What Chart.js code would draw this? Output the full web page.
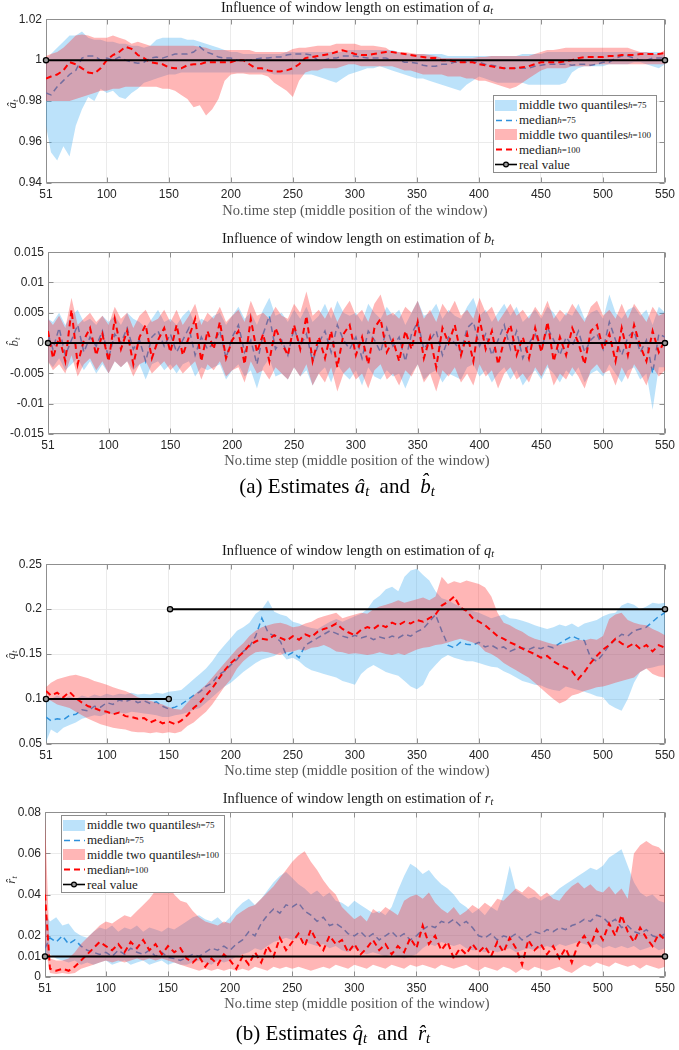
<!DOCTYPE html>
<html>
<head>
<meta charset="utf-8">
<script src="https://cdn.jsdelivr.net/npm/chart.js@4.4.1/dist/chart.umd.min.js"></script>
<style>
  body { margin: 0; background: #fff; }
  #page { position: relative; width: 679px; height: 1050px; overflow: hidden; background: #fff; }
  canvas { position: absolute; left: 0; }
  .title, .xlab, .ylab, .cap { position: absolute; font-family: 'Liberation Serif', 'Times New Roman', serif; white-space: nowrap; }
  .title { font-size: 14.5px; color: #1a1a1a; transform: translate(-50%, -50%); }
  .xlab { font-size: 14.5px; color: #555; transform: translate(-50%, -50%); }
  .ylab { font-size: 13px; color: #333; font-style: italic; transform: translate(-50%, -50%) rotate(-90deg); }
  .cap { font-size: 21px; color: #000; transform: translate(-50%, -50%); }
  .cap .gap { display: inline-block; width: 5px; }
  sub { font-size: 70%; vertical-align: -0.25em; line-height: 0; }
  .leg { position: absolute; width: 164px; height: 78px; box-sizing: border-box; border: 1px solid #8c8c8c; background: #fff;
         font-family: 'Liberation Serif', serif; font-size: 13px; color: #222; padding-top: 2px; }
  .leg div { height: 14.8px; display: flex; align-items: center; white-space: nowrap; }
  .leg svg { margin: 0 2px 0 1px; flex: none; }
  .leg sup { font-size: 9px; line-height: 0; vertical-align: 5px; }
</style>
</head>
<body>
<div id="page">
  <canvas id="c1" width="679" height="197" style="top:8px"></canvas>
  <canvas id="c2" width="679" height="215" style="top:241px"></canvas>
  <canvas id="c3" width="679" height="213" style="top:553px"></canvas>
  <canvas id="c4" width="679" height="198" style="top:801px"></canvas>

  <div class="title" style="left:357px;top:7px">Influence of window length on estimation of <i>a<sub>t</sub></i></div>
  <div class="title" style="left:358px;top:238px">Influence of window length on estimation of <i>b<sub>t</sub></i></div>
  <div class="title" style="left:358px;top:550px">Influence of window length on estimation of <i>q<sub>t</sub></i></div>
  <div class="title" style="left:358px;top:798px">Influence of window length on estimation of <i>r<sub>t</sub></i></div>

  <div class="xlab" style="left:355px;top:210px">No.time step (middle position of the window)</div>
  <div class="xlab" style="left:357px;top:460px">No.time step (middle position of the window)</div>
  <div class="xlab" style="left:357px;top:770px">No.time step (middle position of the window)</div>
  <div class="xlab" style="left:357px;top:1003px">No.time step (middle position of the window)</div>

  <div class="ylab" style="left:12px;top:104px">â<sub>t</sub></div>
  <div class="ylab" style="left:14px;top:342px">b̂<sub>t</sub></div>
  <div class="ylab" style="left:11px;top:655px">q̂<sub>t</sub></div>
  <div class="ylab" style="left:11px;top:880px">r̂<sub>t</sub></div>

  <div class="cap" style="left:337px;top:486px">(a) Estimates <i>â<sub>t</sub></i><span class="gap"></span> and <span class="gap"></span><i>b̂<sub>t</sub></i></div>
  <div class="cap" style="left:333px;top:1033px">(b) Estimates <i>q̂<sub>t</sub></i><span class="gap"></span> and <span class="gap"></span><i>r̂<sub>t</sub></i></div>
</div>

<script>
const xs = [51,55,60,65,70,75,80,85,90,95,
  100,105,110,115,120,125,130,135,140,145,
  150,155,160,165,170,175,180,185,190,195,
  200,205,210,215,220,225,230,235,240,245,
  250,255,260,265,270,275,280,285,290,295,
  300,305,310,315,320,325,330,335,340,345,
  350,355,360,365,370,375,380,385,390,395,
  400,405,410,415,420,425,430,435,440,445,
  450,455,460,465,470,475,480,485,490,495,
  500,505,510,515,520,525,530,535,540,545,550];
const xTicks = [51,100,150,200,250,300,350,400,450,500,550];

// panel a_t
const aYTicks = [0.94,0.96,0.98,1,1.02];
const aBlueLo = [.968,.955,.951,.958,.953,.968,.976,.982,.980,.986,
  .984,.985,.982,.981,.984,.986,.989,.990,.991,.992,
  .993,.993,.994,.994,.994,.994,.994,.994,.994,.994,
  .994,.994,.994,.994,.994,.994,.994,.993,.993,.993,
  .993,.993,.993,.993,.992,.991,.990,.989,.991,.993,
  .994,.995,.996,.996,.997,.996,.995,.994,.993,.992,
  .991,.991,.990,.989,.988,.987,.986,.985,.988,.990,
  .992,.991,.990,.989,.989,.989,.989,.989,.988,.988,
  .988,.988,.988,.988,.989,.994,.996,.997,.997,.997,
  .997,.998,.998,.998,.998,.999,.999,.998,.997,.996,.998];
const aBlueHi = [1.000,1.003,1.006,1.009,1.012,1.012,1.014,1.011,1.010,1.010,
  1.009,1.009,1.008,1.008,1.007,1.007,1.006,1.007,1.010,1.011,
  1.011,1.011,1.011,1.010,1.010,1.009,1.008,1.007,1.006,1.005,
  1.004,1.004,1.003,1.003,1.003,1.003,1.003,1.003,1.003,1.004,
  1.004,1.004,1.004,1.004,1.004,1.004,1.004,1.004,1.004,1.005,
  1.005,1.005,1.005,1.005,1.005,1.005,1.005,1.004,1.003,1.003,
  1.003,1.003,1.003,1.003,1.003,1.002,1.002,1.002,1.002,1.002,
  1.002,1.002,1.002,1.002,1.002,1.002,1.002,1.003,1.003,1.003,
  1.003,1.004,1.004,1.004,1.004,1.004,1.004,1.004,1.004,1.004,
  1.004,1.004,1.004,1.004,1.004,1.004,1.004,1.004,1.004,1.004,1.002];
const aBlueMed = [.984,.983,.987,.990,.993,.995,1.001,1.002,1.002,1.000,
  1.001,1.000,1.0015,1.000,.999,.9985,.999,1.001,1.0015,1.001,
  1.002,1.003,1.003,1.003,1.004,1.0065,1.004,1.003,1.0015,1.001,
  1.001,1.000,1.000,1.000,1.0005,1.001,1.001,1.0015,1.0015,1.0025,
  1.003,1.003,1.003,1.0025,1.000,1.000,1.001,1.001,1.002,1.002,
  1.002,1.0015,1.001,1.001,1.001,1.001,1.000,1.000,.999,.999,
  .9985,.9975,.997,.997,.998,.998,.999,.999,.999,.999,
  .999,.998,.9975,.997,.996,.996,.996,.996,.996,.997,
  .9975,.998,.998,.998,.998,.9975,.998,.998,.9975,.998,
  .999,.999,1.001,1.002,1.002,1.001,1.000,1.000,1.001,1.001,1.001];
const aRedLo = [.980,.980,.980,.980,.980,.981,.982,.983,.984,.985,
  .985,.986,.986,.987,.987,.987,.987,.987,.987,.986,
  .986,.985,.983,.981,.977,.978,.973,.976,.981,.990,
  .993,.9935,.9935,.993,.993,.993,.992,.989,.987,.985,
  .982,.990,.994,.995,.995,.996,.996,.996,.997,.998,
  .998,.997,.997,.997,.997,.997,.997,.996,.995,.995,
  .994,.993,.993,.993,.993,.992,.992,.992,.991,.991,
  .990,.990,.989,.988,.987,.986,.987,.989,.991,.993,
  .995,.996,.996,.996,.996,.997,.997,.997,.997,.998,
  .998,.998,.998,.998,.998,.998,.998,.998,.998,.998,.998];
const aRedHi = [1.002,1.003,1.004,1.006,1.009,1.012,1.0125,1.012,1.011,1.011,
  1.011,1.012,1.011,1.010,1.008,1.009,1.008,1.007,1.007,1.007,
  1.007,1.007,1.007,1.007,1.007,1.0065,1.006,1.005,1.005,1.005,
  1.005,1.005,1.005,1.005,1.004,1.004,1.004,1.004,1.004,1.004,
  1.0055,1.006,1.006,1.0065,1.007,1.007,1.007,1.008,1.008,1.008,
  1.008,1.007,1.007,1.007,1.0065,1.006,1.004,1.004,1.004,1.0035,
  1.003,1.003,1.0025,1.002,1.001,1.001,1.001,1.001,1.001,1.001,
  1.0015,1.0015,1.002,1.002,1.002,1.002,1.002,1.002,1.002,1.003,
  1.004,1.005,1.005,1.0055,1.006,1.006,1.006,1.006,1.006,1.006,
  1.006,1.006,1.006,1.006,1.006,1.005,1.004,1.004,1.003,1.003,1.005];
const aRedMed = [.991,.992,.993,.995,.999,.998,.996,.994,.9935,.996,
  1.000,1.0025,1.004,1.0065,1.0055,1.0025,1.001,.999,.9985,.998,
  .9965,.996,.996,.9975,.998,.998,.999,.999,.999,.999,
  .999,1.000,1.000,.998,.996,.996,.995,.9945,.9945,.995,
  .996,.998,1.001,1.0015,1.002,1.0025,1.003,1.004,1.0048,1.004,
  1.003,1.0025,1.0025,1.003,1.0035,1.004,1.004,1.0035,1.003,1.0025,
  1.002,1.0015,1.001,1.001,1.000,1.000,.9995,.999,.999,.999,
  .998,.9975,.997,.9965,.996,.996,.996,.9965,.997,.998,
  .999,.999,.999,.999,.9995,1.000,1.001,1.0015,1.0015,1.0015,
  1.0015,1.002,1.002,1.0025,1.0025,1.0025,1.003,1.003,1.003,1.003,1.0035];

// panel b_t
const bYTicks = [-0.015,-0.01,-0.005,0,0.005,0.01,0.015];
const bBlueMed = [.0015,-.001,.0025,-.002,.0005,.003,-.0015,.001,-.0005,.002,
  -.0025,.0015,0,.0025,-.001,.0005,-.003,.001,.002,-.0005,
  .0015,-.0015,.0005,.0025,-.002,.001,-.001,0,.002,-.0025,
  .001,.003,-.0015,.0005,-.0035,.0015,.0045,-.001,.0005,-.002,
  .0025,-.0005,.0015,-.003,0,.002,-.0015,.003,.0005,-.001,
  .001,-.0025,.002,.0005,-.0015,.0025,-.0005,.001,-.003,.0015,
  .0035,-.001,.0005,.002,-.002,.001,0,-.0015,.0025,.0035,
  -.0005,.0015,-.002,.0005,.003,-.001,.002,-.0025,0,.0015,
  -.001,.0025,.0005,-.002,.001,-.0005,.002,-.0015,.0005,.0015,
  -.001,.0035,.0005,-.002,.001,.002,-.0015,.0005,-.005,.0015,.001];
const bBlueHi = [.004,.0035,.005,.003,.0045,.0055,.0035,.004,.003,.0045,
  .0035,.0045,.003,.005,.004,.0035,.0025,.004,.0055,.0035,
  .004,.003,.0045,.0055,.003,.004,.0035,.0045,.005,.003,
  .0045,.006,.004,.005,.003,.0055,.0075,.0045,.005,.0035,
  .0055,.004,.006,.0035,.0045,.0065,.004,.007,.005,.0045,
  .005,.0035,.0065,.005,.004,.006,.0045,.0055,.003,.005,
  .007,.0045,.005,.0065,.004,.0055,.0045,.004,.006,.0075,
  .0045,.0055,.0035,.005,.0065,.0045,.006,.0035,.0045,.0055,
  .004,.006,.005,.0035,.005,.0045,.0065,.004,.005,.0055,
  .004,.008,.005,.004,.0055,.006,.0045,.0055,.003,.006,.005];
const bBlueLo = [-.003,-.004,-.0025,-.0045,-.0035,-.0025,-.0045,-.003,-.005,-.0035,
  -.005,-.003,-.004,-.003,-.0045,-.0035,-.006,-.0035,-.003,-.0045,
  -.0035,-.005,-.0035,-.003,-.0055,-.004,-.0045,-.004,-.0035,-.006,
  -.0045,-.0035,-.0055,-.0045,-.0075,-.004,-.0025,-.0055,-.005,-.006,
  -.004,-.0055,-.0045,-.007,-.005,-.004,-.0065,-.0035,-.005,-.006,
  -.0045,-.007,-.004,-.0055,-.006,-.0045,-.0055,-.005,-.0075,-.005,
  -.0035,-.006,-.005,-.0045,-.0065,-.005,-.0055,-.006,-.004,-.0035,
  -.0055,-.0045,-.0065,-.005,-.004,-.006,-.0045,-.007,-.0055,-.0045,
  -.006,-.004,-.005,-.0065,-.0045,-.0055,-.004,-.0065,-.005,-.0045,
  -.0055,-.0035,-.005,-.0065,-.0045,-.004,-.006,-.005,-.011,-.004,-.004];
const bRedMed = [.002,-.0025,.001,-.003,.0055,-.0035,.0005,.0025,-.002,.0015,
  -.003,.004,-.001,.002,-.0035,.001,.003,-.0025,.0005,.0025,
  -.0015,.003,-.002,.001,.004,-.003,.002,-.001,.0035,-.0025,
  .0005,.002,-.0035,.004,-.0015,.0015,-.003,.0025,0,-.002,
  .003,-.001,.0045,-.003,.001,-.0025,.002,-.004,.0015,.003,
  -.002,.001,-.0035,.0025,.004,-.0015,.0005,-.003,.002,-.001,
  .0035,-.0025,.001,-.004,.0025,0,.003,-.002,.0015,-.003,
  .004,-.001,.002,-.0035,.0005,.003,-.002,.001,-.0025,.0025,
  -.0015,.0035,-.003,.001,-.002,.0025,0,-.0035,.002,.003,
  -.001,.0015,-.003,.0025,-.002,.003,-.0005,-.003,.002,-.0015,.0005];
const bRedHi = [.004,.003,.0045,.0025,.0075,.003,.004,.005,.0035,.0045,
  .003,.006,.004,.005,.0025,.0045,.0055,.0035,.004,.0055,
  .0035,.0055,.003,.0045,.0065,.003,.005,.004,.006,.0035,
  .0045,.0055,.0035,.007,.0045,.005,.004,.006,.0045,.004,
  .0065,.005,.0085,.0045,.0055,.004,.006,.0035,.0055,.007,
  .0045,.0055,.0035,.0065,.008,.0045,.005,.004,.006,.005,
  .007,.004,.0055,.0035,.0065,.005,.007,.0045,.0055,.004,
  .0075,.005,.006,.0035,.005,.0065,.0045,.0055,.004,.006,
  .0045,.007,.004,.0055,.0045,.0065,.005,.0035,.006,.007,
  .0045,.0055,.004,.0065,.004,.0065,.005,.0035,.006,.0045,.005];
const bRedLo = [-.003,-.0045,-.0035,-.005,-.002,-.0055,-.0035,-.0025,-.0045,-.003,
  -.005,-.003,-.004,-.003,-.0055,-.0035,-.003,-.005,-.004,-.003,
  -.0045,-.0035,-.005,-.004,-.003,-.006,-.0035,-.0045,-.003,-.0055,
  -.0045,-.004,-.0065,-.003,-.005,-.0045,-.006,-.004,-.005,-.006,
  -.004,-.0055,-.0035,-.007,-.005,-.0065,-.004,-.008,-.005,-.004,
  -.006,-.005,-.0075,-.0045,-.0035,-.006,-.005,-.007,-.0045,-.0055,
  -.0035,-.0065,-.005,-.008,-.0045,-.0055,-.004,-.0065,-.005,-.007,
  -.0035,-.0055,-.0045,-.0075,-.005,-.004,-.006,-.005,-.0065,-.004,
  -.0055,-.0035,-.007,-.005,-.006,-.004,-.0055,-.0075,-.0045,-.0035,
  -.005,-.0045,-.007,-.004,-.006,-.0035,-.005,-.007,-.004,-.0055,-.0045];

// panel q_t
const qYTicks = [0.05,0.1,0.15,0.2,0.25];
const qBlueMed = [.080,.076,.078,.077,.082,.083,.088,.087,.092,.091,
  .096,.094,.099,.097,.100,.096,.098,.095,.097,.092,
  .089,.091,.094,.099,.104,.108,.114,.118,.127,.131,
  .138,.144,.153,.158,.170,.190,.174,.170,.164,.148,
  .152,.146,.160,.164,.168,.172,.176,.173,.170,.168,
  .171,.168,.170,.166,.169,.167,.170,.168,.172,.170,
  .175,.178,.186,.194,.176,.160,.157,.163,.161,.160,
  .163,.158,.160,.156,.158,.153,.156,.157,.155,.158,
  .156,.159,.157,.162,.166,.170,.167,.165,.146,.142,
  .150,.160,.166,.172,.170,.176,.178,.180,.186,.192,.196];
const qBlueLo = [.052,.066,.062,.068,.071,.074,.078,.080,.082,.081,
  .084,.083,.085,.084,.086,.085,.084,.083,.082,.080,
  .080,.082,.083,.085,.088,.090,.096,.102,.108,.114,
  .118,.124,.130,.135,.140,.144,.146,.148,.152,.144,
  .146,.142,.136,.132,.130,.128,.126,.124,.120,.118,
  .116,.128,.134,.138,.134,.130,.128,.126,.120,.114,
  .111,.116,.130,.138,.145,.149,.146,.144,.142,.142,
  .140,.138,.136,.135,.131,.128,.124,.120,.118,.116,
  .115,.112,.110,.109,.114,.112,.110,.108,.106,.103,
  .102,.094,.090,.087,.100,.118,.130,.134,.135,.137,.138];
const qBlueHi = [.102,.100,.104,.101,.103,.100,.104,.102,.105,.103,
  .106,.104,.106,.105,.107,.105,.106,.105,.107,.106,
  .108,.109,.110,.116,.122,.128,.134,.142,.152,.160,
  .168,.176,.180,.185,.195,.200,.210,.197,.194,.192,
  .186,.184,.181,.179,.178,.182,.186,.189,.186,.189,
  .192,.195,.200,.210,.215,.222,.225,.220,.236,.243,
  .245,.238,.232,.220,.212,.210,.206,.203,.200,.198,
  .196,.193,.190,.192,.194,.190,.189,.187,.185,.182,
  .180,.178,.180,.183,.181,.184,.180,.184,.186,.188,
  .192,.195,.196,.204,.207,.205,.200,.203,.207,.206,.207];
const qRedMed = [.109,.104,.107,.102,.108,.101,.096,.092,.090,.087,
  .086,.083,.085,.081,.080,.078,.079,.074,.077,.073,
  .075,.072,.076,.082,.090,.096,.104,.112,.122,.132,
  .140,.146,.152,.160,.164,.167,.166,.171,.168,.165,
  .170,.166,.172,.169,.175,.178,.180,.184,.178,.174,
  .171,.177,.180,.178,.183,.180,.185,.182,.186,.184,
  .188,.186,.190,.194,.204,.208,.214,.202,.198,.190,
  .186,.182,.176,.170,.167,.163,.160,.156,.153,.150,
  .146,.148,.142,.138,.135,.131,.122,.130,.140,.148,
  .155,.160,.167,.162,.158,.162,.156,.160,.153,.160,.157];
const qRedLo = [.100,.098,.094,.092,.090,.086,.082,.078,.075,.072,
  .070,.068,.067,.066,.064,.063,.063,.062,.063,.062,
  .063,.062,.064,.070,.074,.080,.086,.094,.104,.114,
  .122,.134,.142,.148,.152,.153,.152,.150,.149,.152,
  .153,.155,.154,.157,.158,.160,.157,.153,.152,.150,
  .151,.150,.149,.150,.152,.150,.149,.151,.149,.152,
  .155,.157,.158,.160,.161,.163,.165,.167,.165,.163,
  .160,.153,.150,.146,.140,.136,.132,.128,.124,.118,
  .112,.106,.100,.095,.098,.104,.106,.109,.111,.113,
  .114,.116,.118,.120,.122,.124,.130,.134,.128,.125,.124];
const qRedHi = [.113,.118,.122,.124,.126,.127,.125,.123,.120,.118,
  .116,.113,.111,.109,.106,.102,.100,.098,.096,.094,
  .091,.089,.088,.096,.104,.110,.116,.124,.132,.140,
  .148,.156,.162,.170,.176,.180,.182,.184,.185,.183,
  .180,.181,.184,.186,.190,.192,.194,.196,.190,.192,
  .194,.196,.195,.200,.203,.205,.207,.210,.207,.209,
  .211,.213,.210,.214,.236,.228,.231,.229,.232,.230,
  .228,.224,.214,.196,.185,.182,.178,.175,.170,.167,
  .165,.163,.161,.160,.162,.164,.166,.165,.167,.166,
  .170,.189,.194,.196,.188,.185,.183,.182,.178,.175,.171];

// panel r_t
const rYTicks = [0,0.01,0.02,0.04,0.06,0.08];
const rBlueMed = [.014,.019,.017,.020,.016,.018,.015,.013,.012,.011,
  .012,.010,.013,.011,.014,.012,.011,.013,.010,.012,
  .0095,.009,.008,.0095,.011,.010,.012,.014,.013,.015,
  .013,.016,.018,.022,.020,.026,.030,.033,.031,.035,
  .034,.036,.032,.030,.027,.029,.025,.026,.024,.021,
  .020,.022,.019,.021,.018,.020,.022,.019,.021,.018,
  .020,.023,.025,.024,.027,.026,.028,.025,.027,.024,
  .020,.019,.021,.018,.020,.019,.021,.018,.020,.022,
  .021,.023,.022,.024,.023,.025,.026,.028,.027,.030,
  .029,.026,.028,.024,.025,.022,.021,.023,.020,.019,.021];
const rBlueLo = [.010,.011,.009,.008,.007,.008,.006,.007,.006,.007,
  .008,.006,.007,.008,.006,.007,.008,.006,.007,.008,
  .006,.007,.006,.006,.007,.008,.007,.006,.008,.007,
  .008,.010,.011,.012,.014,.013,.015,.017,.018,.019,
  .018,.019,.017,.016,.015,.016,.014,.015,.013,.012,
  .014,.012,.011,.012,.011,.010,.011,.010,.009,.010,
  .011,.014,.016,.015,.017,.016,.015,.016,.014,.013,
  .013,.012,.013,.012,.013,.014,.012,.013,.014,.013,
  .014,.015,.014,.016,.015,.016,.017,.016,.015,.016,
  .014,.015,.014,.015,.014,.015,.013,.014,.015,.013,.014];
const rBlueHi = [.031,.027,.029,.025,.026,.022,.020,.019,.022,.024,
  .023,.025,.022,.024,.023,.025,.022,.024,.023,.022,
  .024,.023,.025,.027,.029,.030,.028,.027,.029,.026,
  .029,.033,.036,.038,.035,.038,.042,.046,.049,.051,
  .048,.045,.043,.040,.042,.039,.041,.037,.036,.034,
  .037,.035,.033,.031,.032,.030,.034,.042,.049,.055,
  .053,.050,.052,.048,.045,.043,.040,.036,.034,.031,
  .033,.030,.034,.032,.040,.054,.042,.040,.038,.039,
  .037,.039,.040,.043,.045,.047,.049,.051,.053,.052,
  .054,.058,.060,.062,.054,.046,.041,.039,.040,.037,.036];
const rRedMed = [.040,.004,.003,.004,.003,.005,.008,.011,.014,.017,
  .015,.013,.016,.012,.017,.014,.018,.013,.016,.011,
  .015,.012,.014,.009,.007,.010,.005,.009,.006,.011,
  .008,.004,.010,.006,.012,.007,.015,.010,.019,.013,
  .017,.021,.015,.023,.017,.013,.020,.016,.018,.012,
  .016,.011,.014,.018,.013,.016,.011,.015,.012,.019,
  .014,.025,.016,.020,.013,.017,.009,.014,.011,.016,
  .012,.015,.010,.017,.012,.019,.014,.006,.018,.013,
  .016,.011,.015,.009,.014,.007,.016,.020,.015,.023,
  .018,.026,.020,.030,.022,.017,.024,.019,.015,.021,.018];
const rRedLo = [.015,.002,.0015,.002,.0015,.002,.004,.005,.006,.007,
  .008,.007,.008,.007,.008,.009,.008,.009,.008,.009,
  .008,.007,.006,.005,.004,.003,.004,.003,.004,.003,
  .004,.003,.004,.003,.005,.004,.003,.005,.004,.005,
  .004,.005,.004,.003,.004,.005,.004,.006,.005,.004,
  .006,.005,.004,.006,.005,.004,.006,.005,.004,.006,
  .005,.006,.005,.004,.006,.005,.004,.005,.006,.004,
  .003,.005,.004,.003,.005,.004,.002,.004,.003,.005,
  .004,.003,.004,.005,.003,.002,.004,.006,.005,.007,
  .006,.005,.007,.006,.005,.006,.004,.006,.005,.004,.005];
const rRedHi = [.078,.009,.008,.008,.009,.012,.016,.019,.022,.025,
  .027,.026,.028,.030,.029,.032,.035,.038,.042,.047,
  .045,.040,.037,.036,.032,.029,.027,.026,.025,.027,
  .026,.030,.032,.034,.035,.038,.041,.044,.048,.052,
  .056,.059,.061,.056,.052,.047,.043,.040,.034,.031,
  .028,.030,.027,.033,.031,.034,.032,.030,.037,.039,
  .040,.038,.041,.036,.033,.031,.034,.030,.032,.035,
  .033,.036,.034,.038,.037,.040,.043,.041,.044,.042,
  .039,.041,.038,.037,.041,.044,.046,.043,.045,.042,
  .041,.044,.040,.043,.038,.060,.064,.066,.064,.063,.060];

// real values
const realX = [51, 550];
const realA = [1, 1];
const realB = [0, 0];
const realR = [0.01, 0.01];
const realQ1X = [51, 150];
const realQ1 = [0.1, 0.1];
const realQ2X = [151, 550];
const realQ2 = [0.2, 0.2];

const BLUE_FILL = 'rgba(60,170,240,0.34)';
const RED_FILL = 'rgba(255,40,40,0.34)';
const BLUE_LINE = 'rgb(45,145,220)';
const RED_LINE = 'rgb(255,0,0)';
const GRID = '#ebebeb';
const TICK_FONT = { family: "'Liberation Sans', Arial, sans-serif", size: 12 };

const pts = (xv, yv) => xv.map((x, i) => ({ x, y: yv[i] }));

const frame = {
  id: 'frame',
  beforeDatasetsDraw(chart) {
    const { ctx, chartArea: a, scales: { x, y } } = chart;
    const l = Math.round(a.left) + 0.5, r = Math.round(a.right) - 0.5;
    const t = Math.round(a.top) + 0.5, b = Math.round(a.bottom) - 0.5;
    ctx.save();
    ctx.strokeStyle = '#8f8f8f';
    ctx.lineWidth = 1;
    ctx.beginPath();
    ctx.rect(l, t, r - l, b - t);
    x.ticks.forEach(tk => {
      const p = Math.round(x.getPixelForValue(tk.value)) + 0.5;
      ctx.moveTo(p, b); ctx.lineTo(p, b - 5);
      ctx.moveTo(p, t); ctx.lineTo(p, t + 5);
    });
    y.ticks.forEach(tk => {
      const p = Math.round(y.getPixelForValue(tk.value)) + 0.5;
      ctx.moveTo(l, p); ctx.lineTo(l + 5, p);
      ctx.moveTo(r, p); ctx.lineTo(r - 5, p);
    });
    ctx.stroke();
    ctx.restore();
  }
};

function realSet(xv, yv) {
  return {
    data: pts(xv, yv), borderColor: '#000', borderWidth: 2,
    pointRadius: 2.6, pointBorderWidth: 1.3, pointBorderColor: '#000', pointBackgroundColor: '#9a9a9a',
    fill: false, order: 0, clip: false
  };
}

function makePanel(id, p) {
  const hidden = { borderColor: 'transparent', borderWidth: 0, pointRadius: 0 };
  const datasets = [
    { data: pts(xs, p.blueLo), ...hidden, fill: false, order: 6 },
    { data: pts(xs, p.blueHi), ...hidden, fill: '-1', backgroundColor: BLUE_FILL, order: 5 },
    { data: pts(xs, p.blueMed), borderColor: BLUE_LINE, borderWidth: 1.5, borderDash: [6, 4], pointRadius: 0, fill: false, order: 4 },
    { data: pts(xs, p.redLo), ...hidden, fill: false, order: 3 },
    { data: pts(xs, p.redHi), ...hidden, fill: '-1', backgroundColor: RED_FILL, order: 2 },
    { data: pts(xs, p.redMed), borderColor: RED_LINE, borderWidth: 2, borderDash: [6, 4], pointRadius: 0, fill: false, order: 1 }
  ].concat(p.real);

  new Chart(document.getElementById(id), {
    type: 'line',
    data: { datasets },
    options: {
      responsive: false,
      animation: false,
      devicePixelRatio: 1,
      layout: { padding: { left: 0, right: p.padR, top: 8, bottom: 0 } },
      elements: { line: { tension: 0 } },
      plugins: { legend: { display: false }, tooltip: { enabled: false } },
      scales: {
        x: {
          type: 'linear', min: 51, max: 550,
          afterBuildTicks: ax => { ax.ticks = xTicks.map(v => ({ value: v })); },
          afterFit: ax => { ax.height = 22; },
          grid: { color: GRID, drawTicks: false },
          border: { display: false },
          ticks: { padding: 4, autoSkip: false, maxRotation: 0, color: '#262626', font: TICK_FONT }
        },
        y: {
          type: 'linear', min: p.yTicks[0], max: p.yTicks[p.yTicks.length - 1],
          afterBuildTicks: ax => { ax.ticks = p.yTicks.map(v => ({ value: v })); },
          afterFit: ax => { ax.width = p.left; },
          grid: { color: GRID, drawTicks: false },
          border: { display: false },
          ticks: { padding: 4, color: '#262626', font: TICK_FONT, callback: v => String(+v.toFixed(4)) }
        }
      }
    },
    plugins: [frame]
  });
}

function legendHtml(left, top) {
  const sw = c => `<svg width="22" height="11"><rect width="22" height="11" fill="${c}"/></svg>`;
  const dash = (c, w) => `<svg width="22" height="11"><line x1="1" y1="5.5" x2="22" y2="5.5" stroke="${c}" stroke-width="${w}" stroke-dasharray="6,4"/></svg>`;
  const real = `<svg width="22" height="11"><line x1="0" y1="5.5" x2="22" y2="5.5" stroke="#000" stroke-width="1.6"/><circle cx="11" cy="5.5" r="2.4" fill="#9a9a9a" stroke="#000" stroke-width="1.2"/></svg>`;
  const div = document.createElement('div');
  div.className = 'leg';
  div.style.left = left + 'px';
  div.style.top = top + 'px';
  div.innerHTML =
    `<div>${sw(BLUE_FILL)}middle two quantiles<sup><i>h</i>=75</sup></div>` +
    `<div>${dash(BLUE_LINE, 1.5)}median<sup><i>h</i>=75</sup></div>` +
    `<div>${sw(RED_FILL)}middle two quantiles<sup><i>h</i>=100</sup></div>` +
    `<div>${dash(RED_LINE, 2)}median<sup><i>h</i>=100</sup></div>` +
    `<div>${real}real value</div>`;
  document.getElementById('page').appendChild(div);
}

makePanel('c1', { blueLo: aBlueLo, blueHi: aBlueHi, blueMed: aBlueMed, redLo: aRedLo, redHi: aRedHi, redMed: aRedMed,
  yTicks: aYTicks, left: 46, padR: 14, real: [realSet(realX, realA)] });
makePanel('c2', { blueLo: bBlueLo, blueHi: bBlueHi, blueMed: bBlueMed, redLo: bRedLo, redHi: bRedHi, redMed: bRedMed,
  yTicks: bYTicks, left: 48, padR: 13, real: [realSet(realX, realB)] });
makePanel('c3', { blueLo: qBlueLo, blueHi: qBlueHi, blueMed: qBlueMed, redLo: qRedLo, redHi: qRedHi, redMed: qRedMed,
  yTicks: qYTicks, left: 46, padR: 10, real: [realSet(realQ1X, realQ1), realSet(realQ2X, realQ2)] });
makePanel('c4', { blueLo: rBlueLo, blueHi: rBlueHi, blueMed: rBlueMed, redLo: rRedLo, redHi: rRedHi, redMed: rRedMed,
  yTicks: rYTicks, left: 45, padR: 10, real: [realSet(realX, realR)] });

legendHtml(493, 95);
legendHtml(61, 815);
</script>
</body>
</html>
